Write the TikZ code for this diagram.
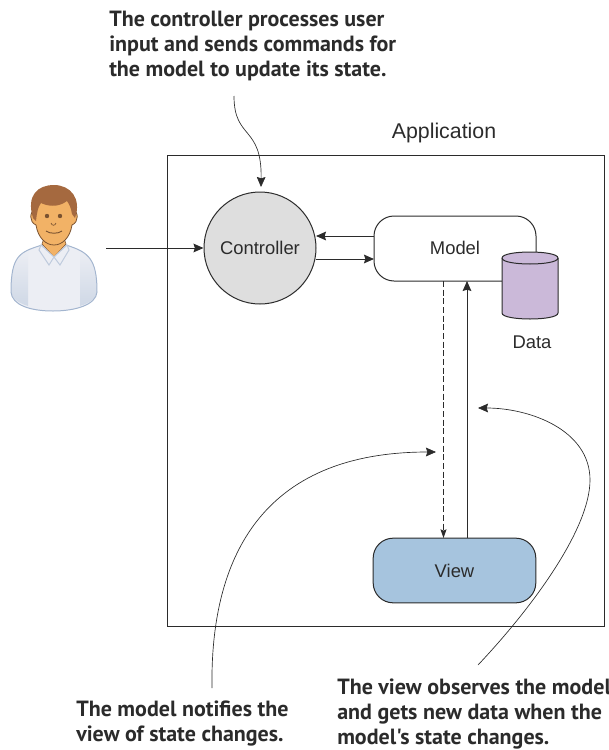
\documentclass[tikz,border=0pt]{standalone}
\usepackage{fontspec}
\setmainfont{Liberation Sans}
\newfontfamily\notefont{PT Sans}
\usetikzlibrary{arrows.meta}
\definecolor{ink}{HTML}{2B2B2B}
\definecolor{viewc}{HTML}{A6C4DE}
\definecolor{cyl}{HTML}{CBB9D9}
\definecolor{shirt}{HTML}{ECEEF4}
\definecolor{shirtd}{HTML}{CFD8E6}
\definecolor{shirtl}{HTML}{A3B5CF}
\definecolor{skin}{HTML}{F2B266}
\definecolor{hair}{HTML}{A5693F}
\definecolor{skinl}{HTML}{7A5230}
\tikzset{
  x=0.75pt,y=-0.75pt,
  line/.style={draw=ink,line width=0.75pt},
  tip/.style={-{Stealth[length=7.5pt,width=6.5pt,inset=1pt]}},
  arr/.style={line,tip},
  thin arr/.style={draw=ink,line width=0.5pt,tip},
  lab/.style={font=\fontsize{13.8pt}{15pt}\selectfont,text=ink,inner sep=0pt},
  note/.style={font=\notefont\bfseries\fontsize{16.5pt}{18.6pt}\selectfont,text=ink,align=left,inner sep=0pt,anchor=base west},
}
\begin{document}
\begin{tikzpicture}
\useasboundingbox (0,0) rectangle (609,750);
\node[note] (n1) at (109,76) {The controller processes user\\input and sends commands for\\the model to update its state.};
\node[note] (n2) at (76,741) {The model notifies the\\view of state changes.};
\node[note] (n3) at (337,744) {The view observes the model\\and gets new data when the\\model's state changes.};
\node[lab,font=\fontsize{16pt}{18pt}\selectfont,anchor=base] (app) at (444,138) {Application};
\node[draw=ink,line width=0.75pt,minimum width=327.75pt,minimum height=353.25pt,inner sep=0pt] (frame) at (386,390.5) {};
% person
\path[fill=shirt] (11,292) .. controls (11,255) and (20,252) .. (42,245) -- (66,245) .. controls (88,252) and (97,258) .. (97,292) .. controls (96,305) and (75,311) .. (53,311) .. controls (30,311) and (12,305) .. (11,292) -- cycle;
\path[top color=shirt,bottom color=shirtd] (11,292) .. controls (11,268) and (16,256) .. (28,250) -- (28,306) .. controls (18,303) and (12,298) .. (11,292) -- cycle;
\path[top color=shirt,bottom color=shirtd] (97,292) .. controls (96,268) and (91,256) .. (80,250) -- (80,306) .. controls (90,303) and (96,298) .. (97,292) -- cycle;
\draw[draw=shirtl,line width=0.75pt] (11,292) .. controls (11,255) and (20,252) .. (42,245) -- (66,245) .. controls (88,252) and (97,258) .. (97,292) .. controls (96,305) and (75,311) .. (53,311) .. controls (30,311) and (12,305) .. (11,292) -- cycle;
\path[fill=skin,draw=skinl,line width=0.4pt] (42,244) -- (46,232) -- (62,232) -- (66,244) -- (54,257) -- cycle;
\draw[draw=shirtl!70!white,line width=0.75pt,fill=shirt] (41,245) -- (39,250) -- (49,265) -- (54,257) -- (60,265) -- (69,250) -- (67,245) -- (54,257) -- cycle;
\path[fill=skin,draw=skinl,line width=0.6pt] (36,208) .. controls (29,212) and (29,222) .. (36,225) .. controls (38,238) and (46,245) .. (54,245) .. controls (62,245) and (70,238) .. (72,225) .. controls (79,222) and (79,212) .. (72,208) -- (70,195) -- (38,195) -- cycle;
\path[fill=hair] (33,218) .. controls (26,195) and (38,185) .. (54,185) .. controls (70,185) and (82,198) .. (75,218) -- (72,214) .. controls (71,207) and (69,204) .. (67,201) .. controls (58,208) and (47,206) .. (41,203) .. controls (38,207) and (37,212) .. (36,221) -- cycle;
\fill[skinl] (47,216) circle (2.2);
\fill[skinl] (60,216) circle (2.2);
\draw[skinl,line width=0.5pt] (51,223) .. controls (52,226) and (55,226) .. (56,223);
\draw[skinl,line width=0.7pt] (46,231) .. controls (50,234) and (58,234) .. (62,231);
\coordinate (pr) at (106,248);
\node[draw=ink,line width=0.75pt,fill=black!13,circle,minimum size=84pt,inner sep=0pt] (ctl) at (260,248) {};
\node[lab] at (ctl) {Controller};
% model with cylinder
\coordinate (mA) at (536,252);
\coordinate (mB) at (502,281);
\draw[line] (mA) -- (536,236) .. controls (536,225) and (527,216) .. (516,216) -- (394,216) .. controls (383,216) and (374,225) .. (374,236) -- (374,261) .. controls (374,272) and (383,281) .. (394,281) -- (mB);
\node[lab] (model) at (455,248) {Model};
\path[fill=cyl,draw=ink,line width=0.75pt] (502,258) -- (502,313) .. controls (502,321) and (558,321) .. (558,313) -- (558,258) .. controls (558,250) and (502,250) .. (502,258) -- cycle;
\draw[line] (502,258) .. controls (502,266) and (558,266) .. (558,258);
\node[lab] (data) at (532,342) {Data};
\node[draw=ink,line width=0.75pt,fill=viewc,rounded corners=15pt,minimum width=122pt,minimum height=48.5pt,inner sep=0pt] (view) at (454.5,570.5) {};
\node[lab] at (view) {View};
\coordinate (m1) at (374,236); \coordinate (c1) at (316,236);
\coordinate (m2) at (374,259); \coordinate (c2) at (316,259);
\draw[arr] (m1) -- (c1);
\draw[arr] (c2) -- (m2);
\draw[arr] (pr) -- (ctl.west);
\coordinate (d1) at (443.5,281); \coordinate (d2) at (443.5,538);
\coordinate (u1) at (467,538); \coordinate (u2) at (467,281);
\draw[line,dash pattern=on 4.5pt off 2pt,-{Stealth[length=6.5pt,width=4.5pt,inset=1pt]}] (d1) -- (d2);
\draw[arr] (u1) -- (u2);
\coordinate (t0) at (234,96);
\coordinate (t1) at (261,187);
\draw[thin arr] (t0) .. controls (234,140) and (262,125) .. (t1);
\coordinate (l0) at (212,688);
\coordinate (l1) at (436,452);
\draw[thin arr] (l0) .. controls (210,560) and (260,452) .. (l1);
\coordinate (r0) at (478,665);
\coordinate (r1) at (478,408);
\draw[thin arr] (r0) .. controls (530,610) and (590,530) .. (590,480) .. controls (590,430) and (530,408) .. (r1);
\end{tikzpicture}
\end{document}
